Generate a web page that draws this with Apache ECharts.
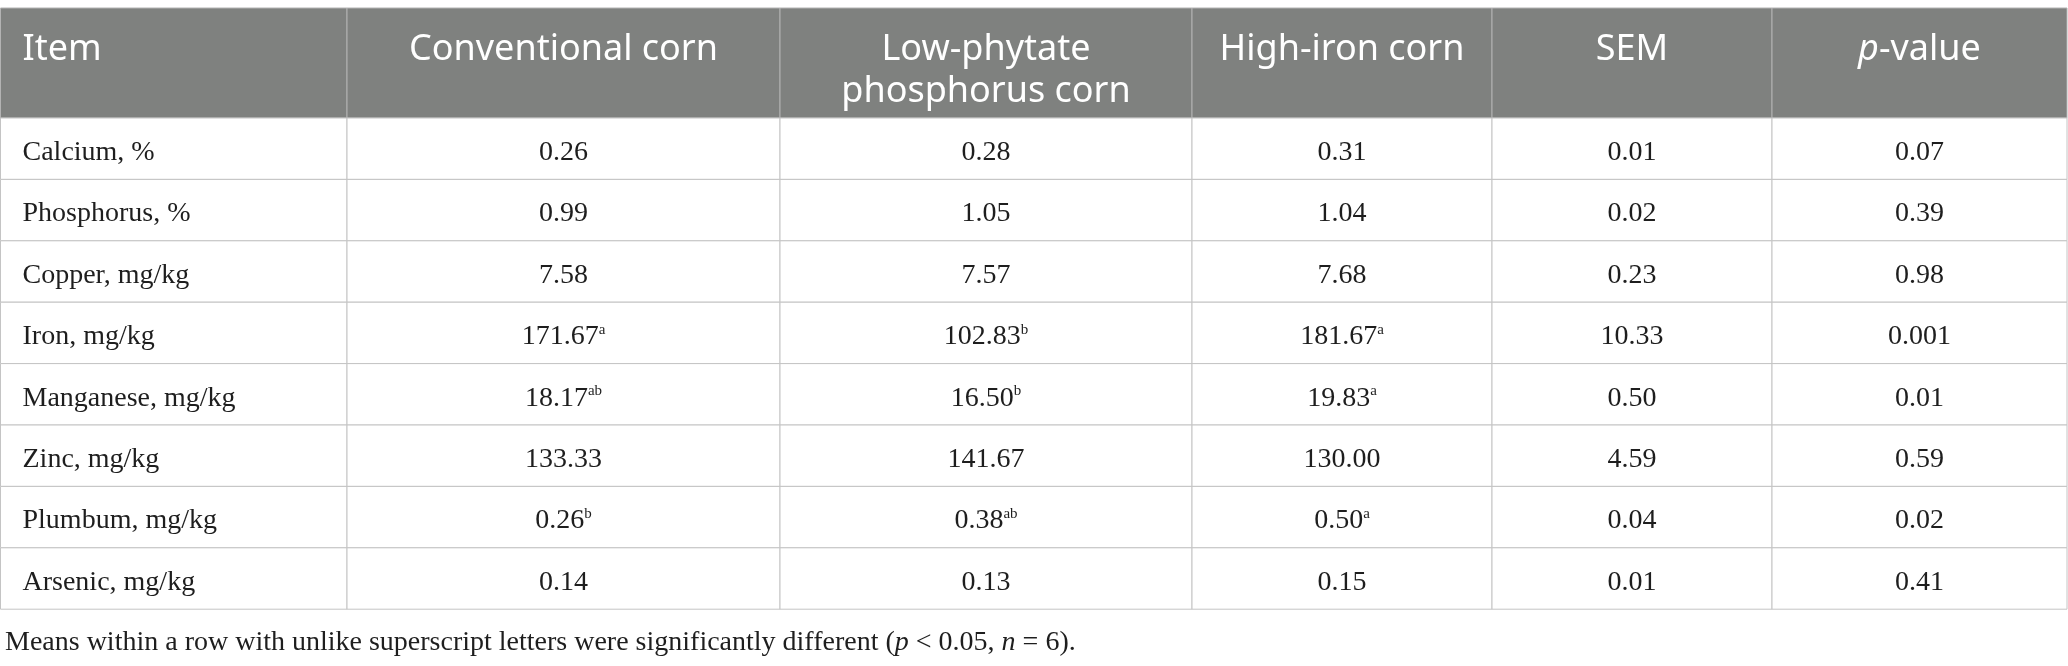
<!DOCTYPE html>
<html>
<head>
<meta charset="utf-8">
<script src="https://cdn.jsdelivr.net/npm/echarts@6/dist/echarts.min.js"></script>
<style>
  html, body { margin: 0; padding: 0; background: #fff; }
  #main { width: 2068px; height: 666px; }
</style>
</head>
<body>
<div id="main"></div>
<script>
// 表头与行名
let columnNames = ['Item', 'Conventional corn', 'Low-phytate\nphosphorus corn', 'High-iron corn', 'SEM', '{i|p}-value']
let items = ['Calcium, %', 'Phosphorus, %', 'Copper, mg/kg', 'Iron, mg/kg', 'Manganese, mg/kg', 'Zinc, mg/kg', 'Plumbum, mg/kg', 'Arsenic, mg/kg']
// 各列数值及上标字母
let conventional = [0.26, 0.99, 7.58, 171.67, 18.17, 133.33, 0.26, 0.14]
let conventionalSup = ['', '', '', 'a', 'ab', '', 'b', '']
let lowPhytate = [0.28, 1.05, 7.57, 102.83, 16.50, 141.67, 0.38, 0.13]
let lowPhytateSup = ['', '', '', 'b', 'b', '', 'ab', '']
let highIron = [0.31, 1.04, 7.68, 181.67, 19.83, 130.00, 0.50, 0.15]
let highIronSup = ['', '', '', 'a', 'a', '', 'a', '']
let sem = [0.01, 0.02, 0.23, 10.33, 0.50, 4.59, 0.04, 0.01]
let pValue = [0.07, 0.39, 0.98, 0.001, 0.01, 0.59, 0.02, 0.41]
let footnote = '{n|Means within a row with unlike superscript letters were significantly different (}{i|p}{n| < 0.05, }{i|n}{n| = 6).}'

// 布局（像素）
let colEdges = [0.5, 347, 780, 1192, 1492, 1772, 2067]
let headTop = 8, headBottom = 118, rowH = 61.4

function fmt(v) {
  let s = String(v)
  let dec = s.indexOf('.') >= 0 ? s.split('.')[1].length : 0
  return v.toFixed(Math.max(2, dec))
}
function cell(v, sup) {
  return fmt(v) + (sup ? '{s|' + sup + '}' : '')
}

let columns = [
  items,
  conventional.map((v, i) => cell(v, conventionalSup[i])),
  lowPhytate.map((v, i) => cell(v, lowPhytateSup[i])),
  highIron.map((v, i) => cell(v, highIronSup[i])),
  sem.map(v => fmt(v)),
  pValue.map(v => fmt(v))
]

let data = []
for (let c = 0; c < columnNames.length; c++) {
  data.push([c, -1])
  for (let r = 0; r < items.length; r++) data.push([c, r])
}

const serif = '"Liberation Serif", "DejaVu Serif", serif'
const sans = '"Noto Sans", "Open Sans", sans-serif'

function renderItem(params, api) {
  let c = api.value(0), r = api.value(1)
  let top = r < 0 ? headTop : headBottom + r * rowH
  let bottom = r < 0 ? headBottom : headBottom + (r + 1) * rowH
  let p0 = api.coord([colEdges[c], top])
  let p1 = api.coord([colEdges[c + 1], bottom])
  let left = c === 0
  let tx = left ? p0[0] + 22 : (p0[0] + p1[0]) / 2
  if (r < 0) {
    return {
      type: 'group',
      children: [
        { type: 'rect', shape: { x: p0[0], y: p0[1], width: p1[0] - p0[0], height: p1[1] - p0[1] },
          style: { fill: '#7f817f', stroke: '#b3b3b3', lineWidth: 1 } },
        { type: 'text', style: {
            text: columnNames[c], x: tx, y: p0[1] + 21,
            align: left ? 'left' : 'center', verticalAlign: 'top',
            fill: '#ffffff', fontSize: 36, fontFamily: sans, lineHeight: 42,
            rich: { i: { fontStyle: 'italic', fontSize: 36, fontFamily: sans, fill: '#ffffff', lineHeight: 42 } }
          } }
      ]
    }
  }
  return {
    type: 'group',
    children: [
      { type: 'rect', shape: { x: p0[0], y: p0[1], width: p1[0] - p0[0], height: p1[1] - p0[1] },
        style: { fill: '#ffffff', stroke: '#c4c4c4', lineWidth: 1 } },
      { type: 'text', style: {
          text: columns[c][r], x: tx, y: (p0[1] + p1[1]) / 2 + 4,
          align: left ? 'left' : 'center', verticalAlign: 'middle',
          fill: '#1e1e1e', fontSize: 28, fontFamily: serif, lineHeight: 29,
          rich: { s: { fontSize: 15, fontFamily: serif, fill: '#1e1e1e', lineHeight: 15, verticalAlign: 'top' } }
        } }
    ]
  }
}

let myChart = echarts.init(document.getElementById('main'))
let option = {
  animation: false,
  title: {
    text: footnote, left: 0, top: 624,
    textStyle: {
      fontSize: 28, fontFamily: serif, color: '#1e1e1e', fontWeight: 'normal',
      rich: {
        n: { fontSize: 28, fontFamily: serif, color: '#1e1e1e' },
        i: { fontSize: 28, fontFamily: serif, color: '#1e1e1e', fontStyle: 'italic' }
      }
    }
  },
  grid: { left: 0, right: 0, top: 0, bottom: 0 },
  xAxis: { type: 'value', min: 0, max: 2068, show: false },
  yAxis: { type: 'value', min: 0, max: 666, inverse: true, show: false },
  series: [{
    type: 'custom',
    renderItem: renderItem,
    data: data,
    clip: false
  }]
}
myChart.setOption(option)
</script>
</body>
</html>
